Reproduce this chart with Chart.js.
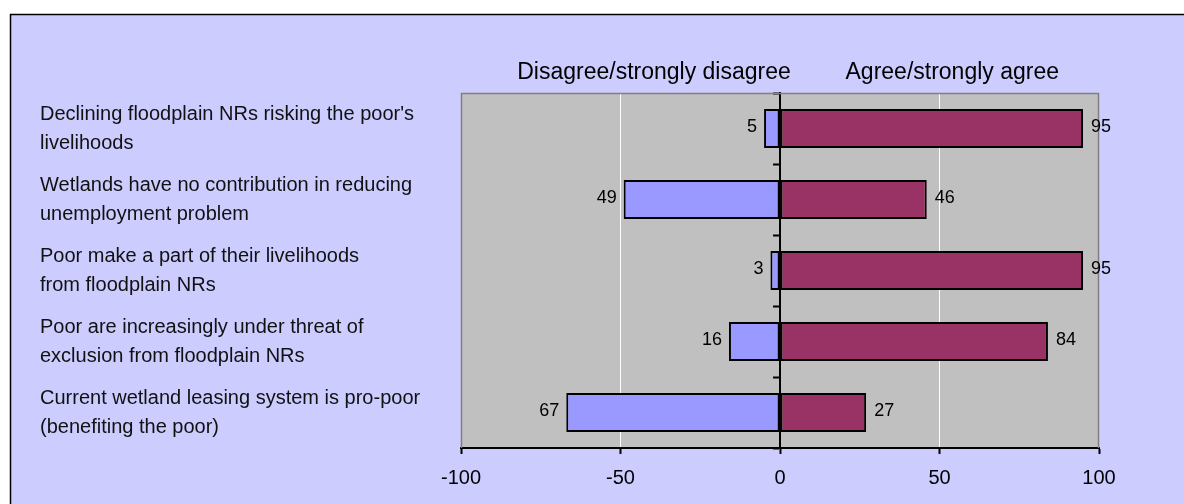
<!DOCTYPE html>
<html>
<head>
<meta charset="utf-8">
<script src="https://cdn.jsdelivr.net/npm/chart.js@4/dist/chart.umd.min.js"></script>
<style>
  html, body { margin: 0; padding: 0; background: #ffffff; }
  #wrap { width: 1184px; height: 504px; }
</style>
</head>
<body>
<div id="wrap"><canvas id="chart" width="1184" height="504"></canvas></div>
<script>
// Survey statements (one per row, top to bottom), split into display lines
const statements = [
  ["Declining floodplain NRs risking the poor's", "livelihoods"],
  ["Wetlands have no contribution in reducing", "unemployment problem"],
  ["Poor make a part of their livelihoods", "from floodplain NRs"],
  ["Poor are increasingly under threat of", "exclusion from floodplain NRs"],
  ["Current wetland leasing system is pro-poor", "(benefiting the poor)"]
];
const seriesNames = ["Disagree/strongly disagree", "Agree/strongly agree"];
// Percent of respondents
const disagree = [5, 49, 3, 16, 67];
const agree = [95, 46, 95, 84, 27];
const axisTicks = [-100, -50, 0, 50, 100];

const FONT = '"Liberation Sans", Arial, sans-serif';

// Page backdrop, framed panel and grey plot area
const backdrop = {
  id: 'backdrop',
  beforeDraw(chart) {
    const { ctx, width, height, chartArea: a } = chart;
    ctx.save();
    ctx.fillStyle = '#ffffff';
    ctx.fillRect(0, 0, width, height);
    ctx.fillStyle = '#CCCCFF';
    ctx.fillRect(10, 14, width - 10, height - 14);
    ctx.strokeStyle = '#000000';
    ctx.lineWidth = 1.5;
    ctx.beginPath();
    ctx.moveTo(10.5, height);
    ctx.lineTo(10.5, 14.5);
    ctx.lineTo(width, 14.5);
    ctx.stroke();
    ctx.fillStyle = '#C0C0C0';
    ctx.fillRect(a.left, a.top, a.right - a.left, a.bottom - a.top);
    ctx.restore();
  },
  beforeDatasetsDraw(chart) {
    const { ctx, chartArea: a } = chart;
    ctx.save();
    ctx.strokeStyle = '#808080';
    ctx.lineWidth = 1.5;
    ctx.beginPath();
    ctx.moveTo(a.left + 0.5, a.bottom);
    ctx.lineTo(a.left + 0.5, a.top + 0.5);
    ctx.lineTo(a.right - 0.5, a.top + 0.5);
    ctx.lineTo(a.right - 0.5, a.bottom);
    ctx.stroke();
    ctx.restore();
  }
};

// Percent labels beside each bar end
const valueLabels = {
  id: 'valueLabels',
  afterDatasetsDraw(chart) {
    const { ctx } = chart;
    const sources = [disagree, agree];
    ctx.save();
    ctx.font = '18px ' + FONT;
    ctx.fillStyle = '#000000';
    ctx.textBaseline = 'middle';
    chart.data.datasets.forEach((ds, di) => {
      chart.getDatasetMeta(di).data.forEach((bar, i) => {
        const v = sources[di][i];
        if (di === 0) {
          ctx.textAlign = 'right';
          ctx.fillText(String(v), bar.x - 7, bar.y - 1);
        } else {
          ctx.textAlign = 'left';
          ctx.fillText(String(v), bar.x + 8, bar.y - 1);
        }
      });
    });
    ctx.restore();
  }
};

// Series captions above the two halves of the plot
const seriesHeads = {
  id: 'seriesHeads',
  afterDraw(chart) {
    const { ctx, chartArea: a } = chart;
    const xs = chart.scales.x;
    const anchors = [-39.5, 54];
    ctx.save();
    ctx.font = '23px ' + FONT;
    ctx.fillStyle = '#000000';
    ctx.textAlign = 'center';
    ctx.textBaseline = 'middle';
    chart.data.datasets.forEach((ds, di) => {
      ctx.fillText(ds.label, xs.getPixelForValue(anchors[di]), a.top - 20);
    });
    ctx.restore();
  }
};

new Chart(document.getElementById('chart'), {
  type: 'bar',
  data: {
    labels: statements,
    datasets: [
      {
        label: seriesNames[0],
        data: disagree.map(v => -v),
        backgroundColor: '#9999FF',
        borderColor: '#000000',
        borderWidth: 2,
        borderSkipped: false,
        barPercentage: 0.55,
        categoryPercentage: 1
      },
      {
        label: seriesNames[1],
        data: agree,
        backgroundColor: '#993366',
        borderColor: '#000000',
        borderWidth: 2,
        borderSkipped: false,
        barPercentage: 0.55,
        categoryPercentage: 1
      }
    ]
  },
  options: {
    indexAxis: 'y',
    responsive: false,
    devicePixelRatio: 1,
    animation: false,
    layout: { padding: { top: 93, right: 85, bottom: 0, left: 40 } },
    plugins: {
      legend: { display: false },
      tooltip: { enabled: false }
    },
    scales: {
      x: {
        type: 'linear',
        position: 'bottom',
        stacked: true,
        min: -100,
        max: 100,
        afterBuildTicks(scale) { scale.ticks = axisTicks.map(v => ({ value: v })); },
        afterFit(scale) { scale.height = 56; },
        grid: {
          color: c => (c.tick && Math.abs(c.tick.value) === 50) ? '#ffffff' : 'rgba(0,0,0,0)',
          lineWidth: 1,
          drawTicks: true,
          tickLength: 6,
          tickColor: '#000000',
          tickWidth: 2
        },
        border: { display: true, color: '#000000', width: 2 },
        ticks: {
          color: '#000000',
          font: { family: FONT, size: 20 },
          padding: 12,
          maxRotation: 0,
          autoSkip: false
        }
      },
      y: {
        type: 'category',
        position: 'left',
        stacked: true,
        afterFit(scale) { scale.width = 421; },
        grid: { display: false },
        border: { display: false },
        ticks: {
          crossAlign: 'far',
          color: '#111111',
          font: { family: FONT, size: 20, lineHeight: 1.45 },
          padding: 0,
          autoSkip: false
        }
      },
      y2: {
        type: 'category',
        position: { x: 0 },
        offset: true,
        grid: {
          offset: true,
          drawOnChartArea: false,
          drawTicks: true,
          tickLength: 6,
          tickColor: '#000000',
          tickWidth: 2
        },
        border: { display: true, color: '#000000', width: 2 },
        ticks: { display: false }
      }
    }
  },
  plugins: [backdrop, valueLabels, seriesHeads]
});
</script>
</body>
</html>
